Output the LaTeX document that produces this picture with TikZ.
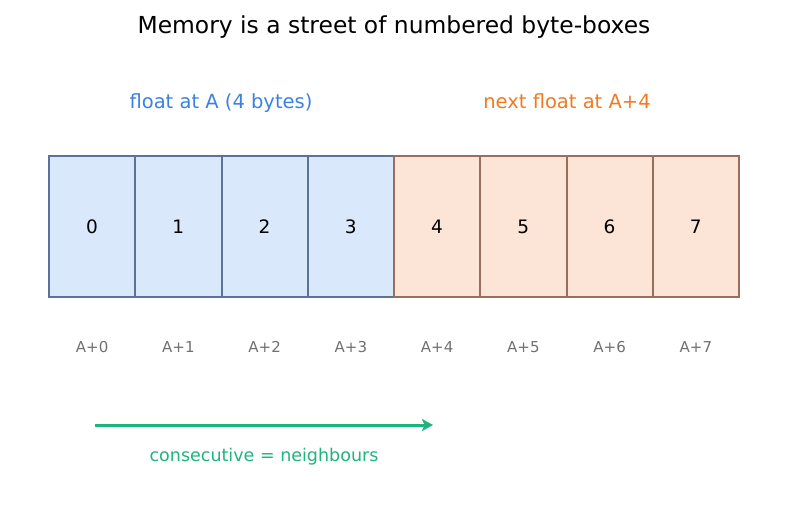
\documentclass[tikz,border=0pt]{standalone}
\usepackage{fontspec}
\setmainfont{DejaVu Sans}
\usetikzlibrary{arrows.meta}
\definecolor{bfill}{HTML}{DAE8FC}
\definecolor{bdraw}{HTML}{5B7399}
\definecolor{ofill}{HTML}{FCE4D6}
\definecolor{odraw}{HTML}{9A6E5C}
\definecolor{tblue}{HTML}{3B82E0}
\definecolor{torange}{HTML}{F07A22}
\definecolor{tgreen}{HTML}{1DB47E}
\definecolor{tgray}{HTML}{707070}
\tikzset{
  bytebox/.style={draw, line width=2pt, minimum width=86.25pt, minimum height=141pt, inner sep=0pt, font=\fontsize{18.5}{22}\selectfont, anchor=center},
  bluebox/.style={bytebox, fill=bfill, draw=bdraw},
  orangebox/.style={bytebox, fill=ofill, draw=odraw},
  addr/.style={text=tgray, font=\fontsize{15}{18}\selectfont},
  lbl/.style={font=\fontsize{19.5}{23}\selectfont},
}
\begin{document}
\begin{tikzpicture}[x=1pt,y=-1pt]
\useasboundingbox (0,0) rectangle (787,510);
\node[font=\fontsize{23.4}{28}\selectfont] (title) at (394,27) {Memory is a street of numbered byte-boxes};
\node[lbl, text=tblue] (fl) at (221,103) {float at A (4 bytes)};
\node[lbl, text=torange] (nf) at (567,101) {next float at A+4};
\foreach \i in {0,1,2,3} {
  \node[bluebox] (b\i) at ({49+86.25*\i+43.125},226.5) {\i};
}
\foreach \i in {4,5,6,7} {
  \node[orangebox] (b\i) at ({49+86.25*\i+43.125},226.5) {\i};
}
\foreach \i in {0,...,7} {
  \node[addr] (a\i) at ({49+86.25*\i+43.125},347) {A+\i};
}
\coordinate (s) at (95,425);
\coordinate (e) at (433,425);
\draw[tgreen, line width=3pt, -{Stealth[length=11pt,width=12pt,inset=2.5pt]}] (s) -- (e);
\node[text=tgreen, font=\fontsize{17.5}{21}\selectfont] (cn) at (264,457) {consecutive = neighbours};
\end{tikzpicture}
\end{document}
